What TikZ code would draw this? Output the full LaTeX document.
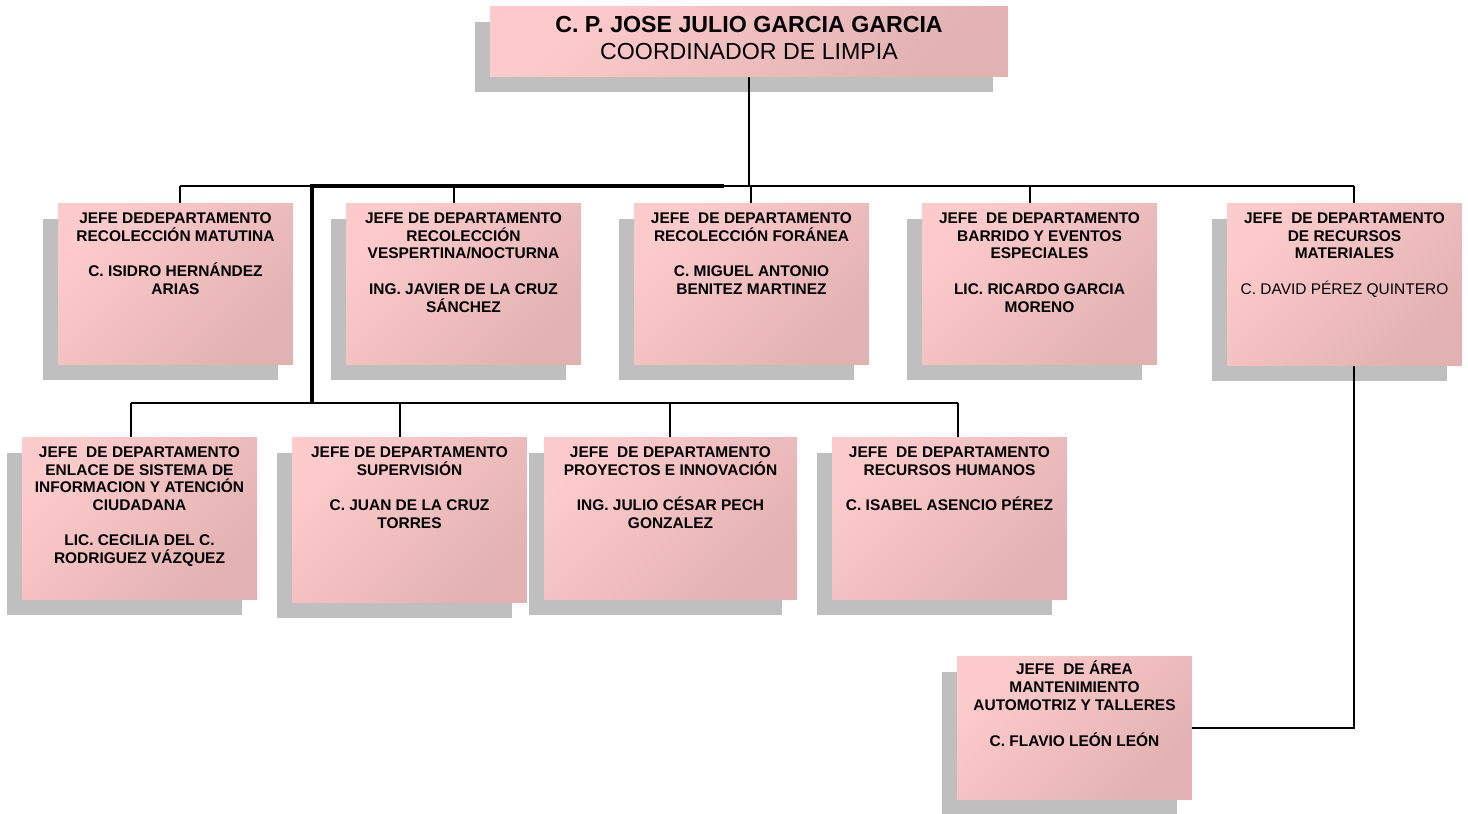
\documentclass[tikz,border=0pt]{standalone}
\usepackage{fontspec}
\setmainfont{Liberation Sans}
\usetikzlibrary{shadows}
\definecolor{pinkA}{HTML}{FDCBCC}
\definecolor{pinkB}{HTML}{E2B1B1}
\definecolor{shadowgray}{HTML}{BFBFBF}
\begin{document}
\begin{tikzpicture}[x=0.02cm,y=-0.02cm,
  box/.style={inner sep=0pt, minimum width=4.7cm, minimum height=3.24cm,
    top color=pinkA, bottom color=pinkB, shading angle=45,
    drop shadow={shadow xshift=-0.3cm, shadow yshift=-0.31cm,
      opacity=1, fill=shadowgray}},
  txt/.style={anchor=north, inner sep=0pt, align=center,
    font=\fontsize{8.8}{10.2}\selectfont\bfseries},
  link/.style={line width=0.9pt}]
  \useasboundingbox (0,0) rectangle (1468,814);

  % coordinator
  \node[box, minimum width=10.36cm, minimum height=1.42cm]
    (coord) at (749,41.5) {};
  \node[anchor=north, inner sep=0pt, align=center,
        font=\fontsize{13.2}{15.9}\selectfont]
    (coordT) at (749,15.5)
    {\bfseries C. P. JOSE JULIO GARCIA GARCIA\\COORDINADOR DE LIMPIA};

  % first row
  \node[box] (matutina) at (175.5,284) {};
  \node[txt] (matutinaT) at (175.5,212)
    {JEFE DEDEPARTAMENTO\\RECOLECCIÓN MATUTINA\\[10.2pt]
     C. ISIDRO HERNÁNDEZ\\ARIAS};
  \node[box] (vespertina) at (463.5,284) {};
  \node[txt] (vespertinaT) at (463.5,212)
    {JEFE DE DEPARTAMENTO\\RECOLECCIÓN\\VESPERTINA/NOCTURNA\\[10.2pt]
     ING. JAVIER DE LA CRUZ\\SÁNCHEZ};
  \node[box] (foranea) at (751.5,284) {};
  \node[txt] (foraneaT) at (751.5,212)
    {JEFE\ \ DE DEPARTAMENTO\\RECOLECCIÓN FORÁNEA\\[10.2pt]
     C. MIGUEL ANTONIO\\BENITEZ MARTINEZ};
  \node[box] (barrido) at (1039.5,284) {};
  \node[txt] (barridoT) at (1039.5,212)
    {JEFE\ \ DE DEPARTAMENTO\\BARRIDO Y EVENTOS\\ESPECIALES\\[10.2pt]
     LIC. RICARDO GARCIA\\MORENO};
  \node[box, minimum height=3.26cm] (materiales) at (1344.5,284.5) {};
  \node[txt] (materialesT) at (1344.5,212)
    {JEFE\ \ DE DEPARTAMENTO\\DE RECURSOS\\MATERIALES\\[10.2pt]
     {\mdseries C. DAVID PÉREZ QUINTERO}};

  % second row
  \node[box, minimum height=3.26cm] (enlace) at (139.5,518.5) {};
  \node[txt] (enlaceT) at (139.5,446)
    {JEFE\ \ DE DEPARTAMENTO\\ENLACE DE SISTEMA DE\\INFORMACION Y ATENCIÓN\\
     CIUDADANA\\[9.6pt]LIC. CECILIA DEL C.\\RODRIGUEZ VÁZQUEZ};
  \node[box, minimum height=3.32cm] (supervision) at (409.5,520) {};
  \node[txt] (supervisionT) at (409.5,446)
    {JEFE DE DEPARTAMENTO\\SUPERVISIÓN\\[10.2pt]
     C. JUAN DE LA CRUZ\\TORRES};
  \node[box, minimum width=5.06cm, minimum height=3.26cm]
    (proyectos) at (670.5,518.5) {};
  \node[txt] (proyectosT) at (670.5,446)
    {JEFE\ \ DE DEPARTAMENTO\\PROYECTOS E INNOVACIÓN\\[10.2pt]
     ING. JULIO CÉSAR PECH\\GONZALEZ};
  \node[box, minimum height=3.26cm] (humanos) at (949.5,518.5) {};
  \node[txt] (humanosT) at (949.5,446)
    {JEFE\ \ DE DEPARTAMENTO\\RECURSOS HUMANOS\\[10.2pt]
     C. ISABEL ASENCIO PÉREZ};

  % workshop
  \node[box, minimum height=2.88cm] (taller) at (1074.5,728) {};
  \node[txt] (tallerT) at (1074.5,660.5)
    {JEFE\ \ DE ÁREA\\MANTENIMIENTO\\AUTOMOTRIZ Y TALLERES\\[10.2pt]
     C. FLAVIO LEÓN LEÓN};

  % connectors
  \coordinate (busL) at (180,186);
  \coordinate (busR) at (1354,186);
  \coordinate (hub) at (312,186);
  \coordinate (hubEnd) at (724,186);
  \coordinate (lowL) at (131,403);
  \coordinate (lowR) at (958,403);
  \draw[link] (coord.south) -- (coord.south |- busL);
  \draw[link] (busL) -- (busR);
  \draw[link] (lowL) -- (lowR);
  \draw[line width=2.2pt] (hubEnd) -- (hub) -- (hub |- lowL);
  \foreach \x/\n in {180/matutina, 454/vespertina, 751/foranea,
                     1030/barrido, 1354/materiales} {
    \coordinate (d-\n) at (\x,186);
    \draw[link] (d-\n) -- (d-\n |- \n.north);
  }
  \foreach \x/\n in {131/enlace, 400/supervision, 670/proyectos,
                     958/humanos} {
    \coordinate (d-\n) at (\x,403);
    \draw[link] (d-\n) -- (d-\n |- \n.north);
  }
  \draw[link] (d-materiales |- materiales.south) |- (taller.east);
\end{tikzpicture}
\end{document}
